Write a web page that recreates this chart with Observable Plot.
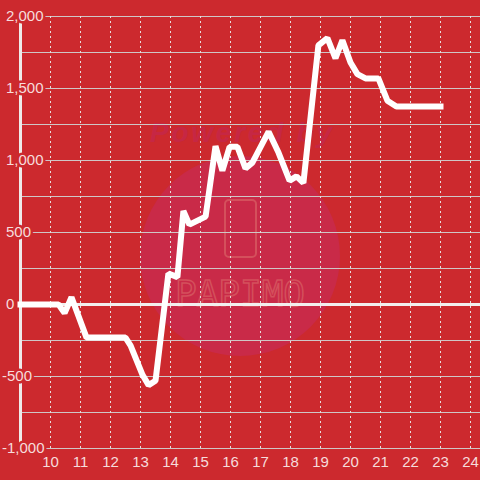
<!DOCTYPE html>
<html>
<head>
<meta charset="utf-8">
<script src="https://cdn.jsdelivr.net/npm/d3@7"></script>
<script src="https://cdn.jsdelivr.net/npm/@observablehq/plot@0.6"></script>
<style>
  html, body { margin: 0; padding: 0; background: #cc292e; }
  #chart { width: 480px; height: 480px; }
</style>
</head>
<body>
<div id="chart"></div>
<script>
// Data (hour of day vs cumulative value)
const hours  = [9, 10.27, 10.47, 10.7, 11.2, 12.5, 12.67, 13.07, 13.27, 13.5, 13.93, 14.23, 14.43, 14.63, 15.17, 15.5, 15.73, 15.97, 16.23, 16.5, 16.73, 17.27, 17.6, 17.97, 18.2, 18.43, 18.93, 19.23, 19.5, 19.73, 20, 20.23, 20.5, 20.93, 21.23, 21.53, 23];
const values = [0, 0, -60, 50, -230, -230, -285, -490, -560, -530, 215, 190, 650, 555, 610, 1100, 930, 1095, 1095, 945, 985, 1200, 1055, 860, 890, 845, 1800, 1850, 1710, 1835, 1680, 1600, 1570, 1570, 1415, 1375, 1375];
const xTicks = [10, 11, 12, 13, 14, 15, 16, 17, 18, 19, 20, 21, 22, 23, 24];
const yTicks = [-1000, -500, 0, 500, 1000, 1500, 2000];
const yGrid  = [-1000, -750, -500, -250, 0, 250, 500, 750, 1000, 1250, 1500, 1750, 2000];

const data = hours.map((h, i) => ({h, v: values[i]}));
const bg = "#cc292e";
const labelColor = "#f6dcdc";
const fmt = d => d3.format(",")(d).replace("\u2212", "-");

const chart = Plot.plot({
  width: 480,
  height: 480,
  marginLeft: 20,
  marginRight: 0,
  marginTop: 16,
  marginBottom: 32,
  style: {background: bg, fontFamily: "Liberation Sans, Arial, sans-serif", fontSize: "15px"},
  x: {domain: [9, 24.3333], axis: null},
  y: {domain: [-1000, 2000], axis: null},
  marks: [
    Plot.ruleY(yGrid, {stroke: "#cfc6c6", strokeWidth: 1.2}),
    Plot.ruleX(xTicks, {stroke: "#e6dede", strokeWidth: 1, strokeDasharray: "2,3"}),
    Plot.ruleY([0], {stroke: "#f2eeee", strokeWidth: 3}),
    Plot.ruleX([9], {stroke: "#efeaea", strokeWidth: 3}),
    Plot.text(yTicks.filter(d => d >= 0), {y: d => d, text: fmt, frameAnchor: "left", textAnchor: "start", dx: -14.5, fill: labelColor, stroke: bg, strokeWidth: 5, fontSize: 15}),
    Plot.text(yTicks.filter(d => d < 0), {y: d => d, text: fmt, frameAnchor: "left", textAnchor: "start", dx: -18.5, fill: labelColor, stroke: bg, strokeWidth: 5, fontSize: 15}),
    Plot.text(xTicks, {x: d => d, text: d => String(d), frameAnchor: "bottom", dy: 14, fill: labelColor, fontSize: 15, lineAnchor: "middle"}),
    Plot.line(data, {x: "h", y: "v", stroke: "#ffffff", strokeWidth: 6, strokeLinejoin: "miter", strokeLinecap: "square", curve: "linear"})
  ]
});

// watermark behind the grid
const svg = d3.select(chart);
const wm = svg.insert("g", ":first-child").attr("class", "watermark");
wm.append("circle").attr("cx", 240).attr("cy", 256).attr("r", 100).attr("fill", "#c92a48");
wm.append("text").attr("x", 241).attr("y", 142).attr("text-anchor", "middle")
  .attr("font-family", "Liberation Sans, Arial, sans-serif").attr("font-size", 28)
  .attr("font-weight", "bold").attr("font-style", "italic")
  .attr("textLength", 182).attr("fill", "#c62744").text("Powered by");
wm.append("rect").attr("x", 225).attr("y", 200).attr("width", 31).attr("height", 57).attr("rx", 4)
  .attr("fill", "none").attr("stroke", "#d4505c").attr("stroke-width", 2);
wm.append("text").attr("x", 240).attr("y", 306).attr("text-anchor", "middle")
  .attr("font-family", "DejaVu Sans Mono, monospace").attr("font-size", 36)
  .attr("textLength", 130).attr("fill", "none").attr("stroke", "#d4505c").attr("stroke-width", 1.5)
  .text("PAPIMO");

document.getElementById("chart").appendChild(chart);
</script>
</body>
</html>
